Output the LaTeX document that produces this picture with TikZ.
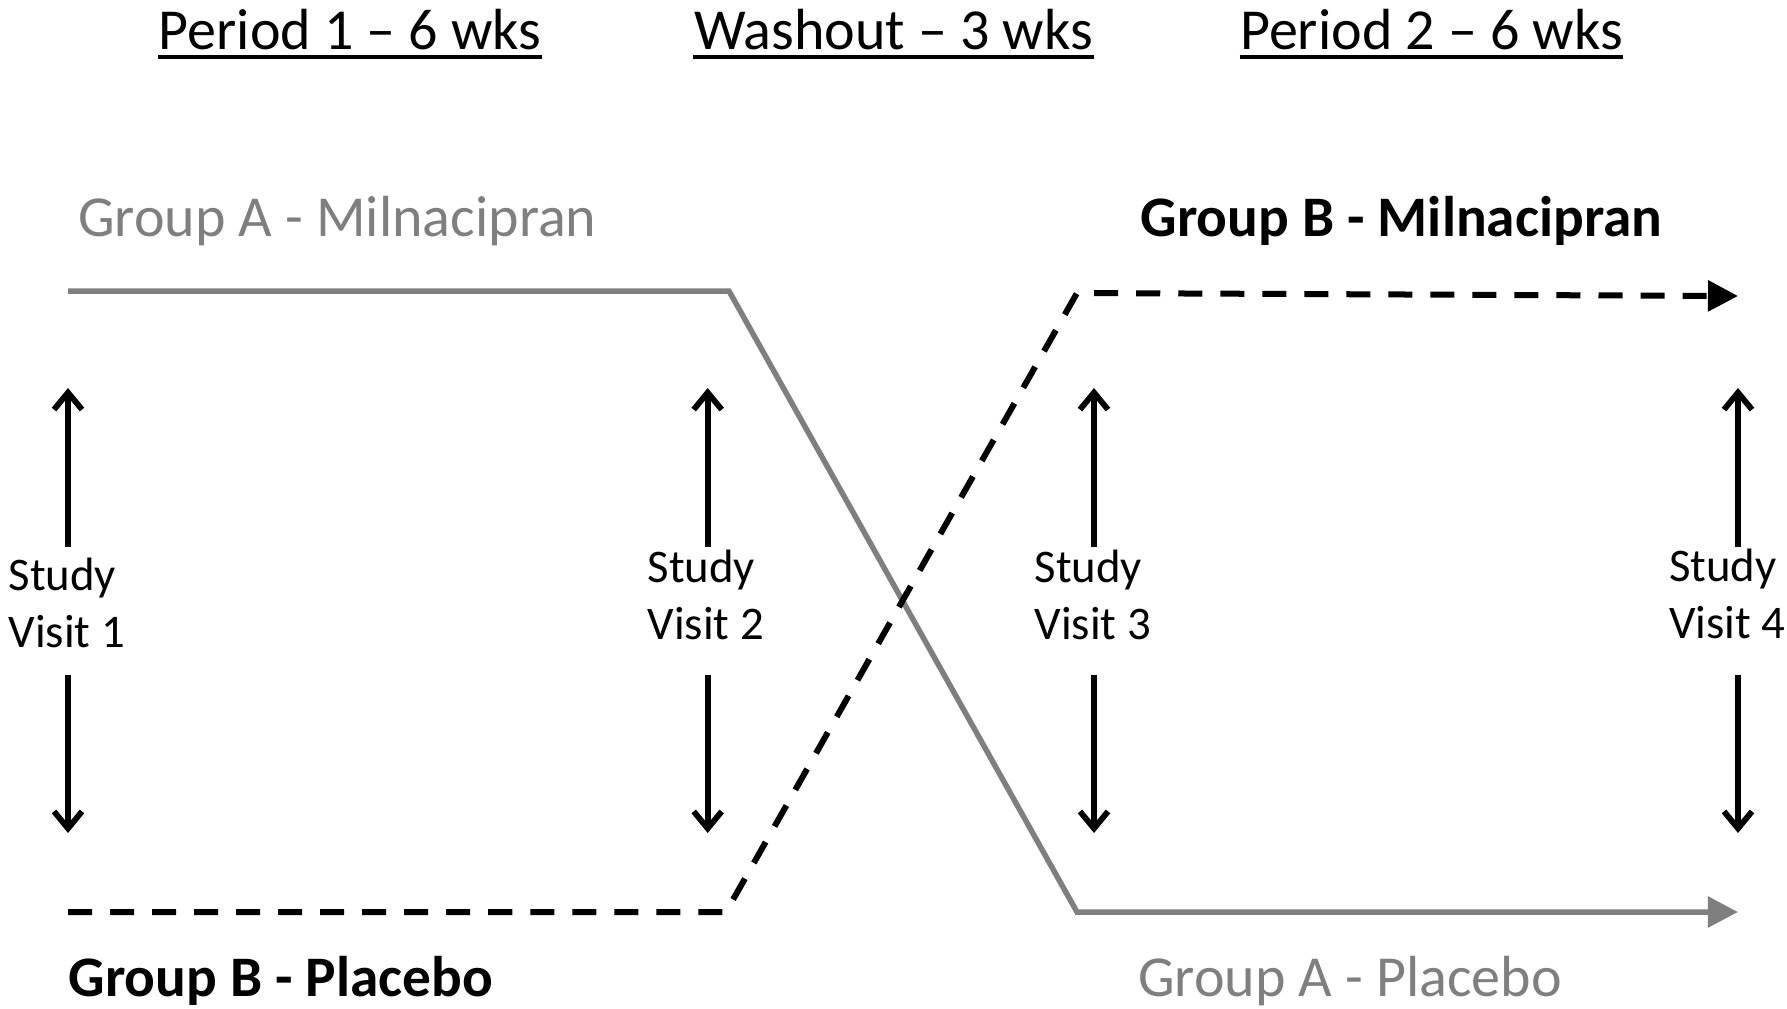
\documentclass[tikz,border=0pt]{standalone}
\usepackage{fontspec}
\setmainfont{Carlito}
\usetikzlibrary{arrows.meta}
\definecolor{armgray}{HTML}{7F7F7F}
\tikzset{
  periodlbl/.style={inner sep=0pt, anchor=base, font=\fontsize{16.5}{20}\selectfont},
  grouplbl/.style={inner sep=0pt, anchor=base west, font=\fontsize{16.5}{20}\selectfont},
  visitlbl/.style={inner sep=0pt, anchor=base west, align=left, font=\fontsize{13.3}{16}\selectfont},
  armA/.style={armgray, line width=0.055cm, -{Triangle[length=0.3cm,width=0.3cm]}},
  armB/.style={black, line width=0.06cm, dash pattern=on 0.24cm off 0.18cm, -{Triangle[length=0.3cm,width=0.3cm]}},
  visitarrow/.style={line width=0.058cm, -{Straight Barb[length=0.17cm,width=0.28cm]}},
}

\begin{document}
\begin{tikzpicture}[x=0.01cm, y=-0.01cm]
		%%%%% START %%%%%
		\path[use as bounding box, clip] (0, 0) rectangle (1787, 1008);
		
		% periods
		\node[periodlbl] (per1) at (350, 49) {Period 1 – 6 wks};
		\node[periodlbl] (wash) at (893.5, 49) {Washout – 3 wks};
		\node[periodlbl] (per2) at (1431.5, 49) {Period 2 – 6 wks};
		\foreach \p in {per1, wash, per2}
			\draw[line width=0.036cm] ([yshift=-0.08cm]\p.base west) -- ([yshift=-0.08cm]\p.base east);
		
		% groups
		\node[grouplbl, text=armgray] (grpAmil) at (77.5, 236) {Group A - Milnacipran};
		\node[grouplbl, font=\fontsize{16.3}{20}\selectfont\bfseries] (grpBmil) at (1140, 236) {Group B - Milnacipran};
		\node[grouplbl, font=\fontsize{16.3}{20}\selectfont\bfseries] (grpBpla) at (68, 996) {Group B - Placebo};
		\node[grouplbl, text=armgray] (grpApla) at (1137.5, 996) {Group A - Placebo};
		
		% arms
		\coordinate (aStart) at (68, 291);
		\coordinate (aBend1) at (729, 291);
		\coordinate (aBend2) at (1077, 912);
		\coordinate (aEnd) at (1738, 912);
		\draw[armA] (aStart) -- (aBend1) -- (aBend2) -- (aEnd);
		
		\coordinate (bStart) at (68, 912);
		\coordinate (bBend1) at (726, 912);
		\coordinate (bBend2) at (1077, 293);
		\coordinate (bEnd) at (1738, 296);
		\draw[armB] (bStart) -- (bBend1) -- (bBend2) -- (bEnd);
		
		% study visits (base = second line)
		\node[visitlbl] (vis1) at (8, 647) {Study\\Visit 1};
		\node[visitlbl] (vis2) at (647, 639) {Study\\Visit 2};
		\node[visitlbl] (vis3) at (1034, 639) {Study\\Visit 3};
		\node[visitlbl] (vis4) at (1668.5, 638) {Study\\Visit 4};
		
		\foreach \v/\x/\d in {1/68/0, 2/707.7/0, 3/1094/0, 4/1738/0} {
			\coordinate (up\v) at (\x, 547+\d);
			\coordinate (top\v) at (\x, 388);
			\coordinate (dn\v) at (\x, 675);
			\coordinate (bot\v) at (\x, 833);
			\draw[visitarrow] (up\v) -- (top\v);
			\draw[visitarrow] (dn\v) -- (bot\v);
		}
		%%%%% END %%%%%
	\end{tikzpicture}
\end{document}
